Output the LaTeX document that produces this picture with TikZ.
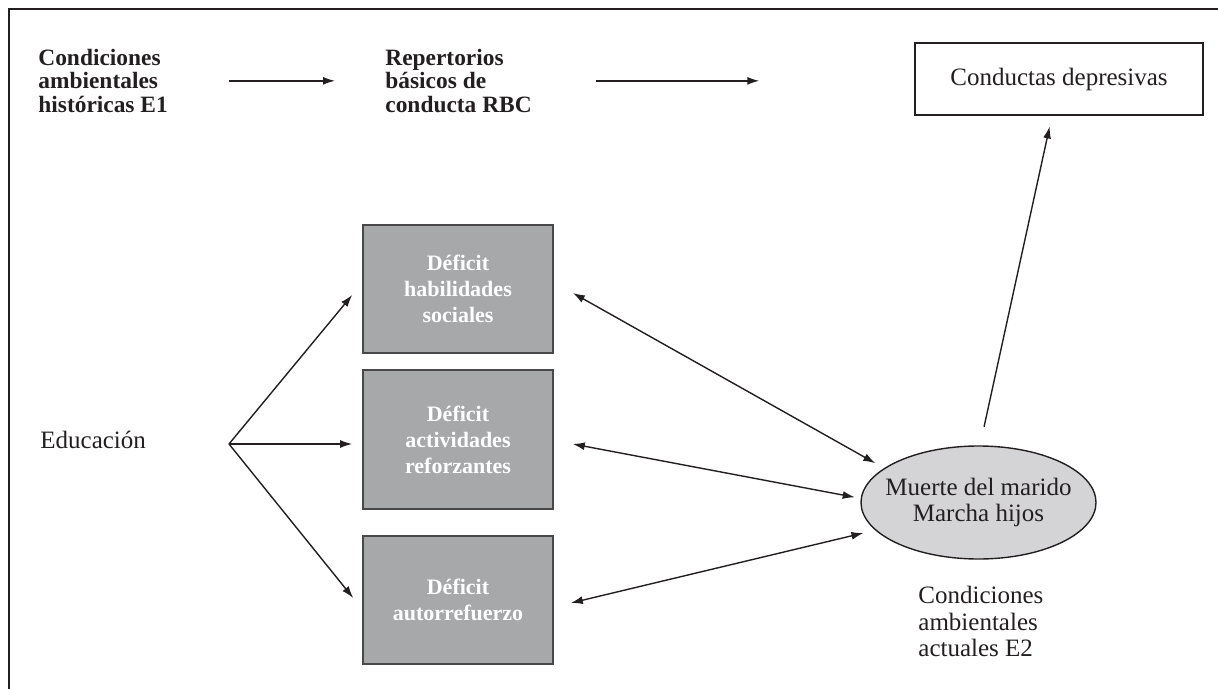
\documentclass[tikz,border=0pt]{standalone}
\usepackage{fontspec}
\setmainfont{Liberation Serif}
\usepackage{tikz}
\usetikzlibrary{shapes.geometric, arrows.meta, positioning}
\definecolor{depink}{RGB}{35,31,32}
\definecolor{depbox}{RGB}{167,168,170}
\definecolor{depedge}{RGB}{72,72,74}
\definecolor{depoval}{RGB}{212,212,214}
\tikzset{
  %% ---- texts ----
  headtext/.style  = {inner sep=0pt, align=left, text=depink,
                      font=\fontsize{11.7}{11.6}\selectfont\bfseries},
  plaintext/.style = {inner sep=0pt, align=left, text=depink,
                      font=\fontsize{12.5}{13.3}\selectfont},
  %% ---- boxes ----
  outbox/.style  = {rectangle, draw=depink, line width=0.7pt,
                    fill=white, minimum width=144pt, minimum height=36pt,
                    text=depink, font=\fontsize{12.5}{13}\selectfont},
  deficit/.style = {rectangle, draw=depedge, line width=0.8pt,
                    fill=depbox, minimum width=95pt, minimum height=#1,
                    align=center, text=white,
                    font=\fontsize{11}{13}\selectfont\bfseries},
  deficit/.default = 64pt,
  event/.style   = {ellipse, draw=depink, line width=0.7pt,
                    fill=depoval, minimum width=117.5pt, minimum height=56.5pt,
                    inner xsep=-6pt, inner ysep=0pt, align=center, text=depink,
                    font=\fontsize{12.5}{13}\selectfont},
  %% ---- arrows ----
  arrow/.style       = {-{Latex[length=6pt, width=4pt]},
                        line width=0.7pt, color=depink},
  doublearrow/.style = {{Latex[length=6pt, width=4pt]}-{Latex[length=6pt, width=4pt]},
                        line width=0.7pt, color=depink},
}

\begin{document}
\begin{tikzpicture}[x=0.5pt, y=-0.5pt]
  \useasboundingbox (0,0) rectangle (1218,689);

  %% Frame
  \draw[line width=1pt, depink] (9,689) -- (9,9) -- (1218,9);

  %% Top row
  \node[headtext, anchor=north west] (hist) at (38,49)
    {Condiciones\\ambientales\\históricas E1};
  \node[headtext, anchor=north west] (rbc) at (385,49)
    {Repertorios\\básicos de\\conducta RBC};
  \node[outbox] (dep) at (1059,79) {Conductas depresivas};

  \draw[arrow, shorten <=30.5pt, shorten >=25pt]
    (hist.east) -- (hist.east -| rbc.west);
  \draw[arrow, shorten <=32pt, shorten >=77.5pt]
    (rbc.east) -- (rbc.east -| dep.west);

  %% Deficits
  \node[deficit]        (hab)  at (458,289)   {Déficit\\habilidades\\sociales};
  \node[deficit=69.5pt] (act)  at (458,439.5) {Déficit\\actividades\\reforzantes};
  \node[deficit]        (auto) at (458,600)   {Déficit\\autorrefuerzo};

  %% Education
  \node[plaintext, anchor=west] (edu) at (40,440) {Educación};
  \coordinate (fork) at (229,444);
  \draw[arrow] (fork) -- ([shift={(-5pt,-3pt)}]hab.west);
  \draw[arrow] (fork) -- ([shift={(-5pt,-2.25pt)}]act.west);
  \draw[arrow] (fork) -- ([shift={(-4.5pt,1pt)}]auto.west);

  %% Current conditions
  \node[event] (mue) at (978.5,502.5) {Muerte del marido\\Marcha hijos};
  \node[plaintext, anchor=north west] (env) at (918,586)
    {Condiciones\\ambientales\\actuales E2};

  \draw[doublearrow, shorten >=5pt]
    ([shift={(9.5pt,-2pt)}]hab.east) -- (mue.160);
  \draw[doublearrow, shorten >=3pt]
    ([shift={(9.5pt,-2.25pt)}]act.east) -- (mue.178);
  \draw[doublearrow, shorten >=6pt]
    ([shift={(8.5pt,-1.5pt)}]auto.east) -- (mue.195);

  \draw[arrow, shorten <=9.5pt, shorten >=5.5pt]
    ([xshift=0.75pt]mue.north) -- ([xshift=-3.5pt]dep.south);

\end{tikzpicture}
\end{document}
